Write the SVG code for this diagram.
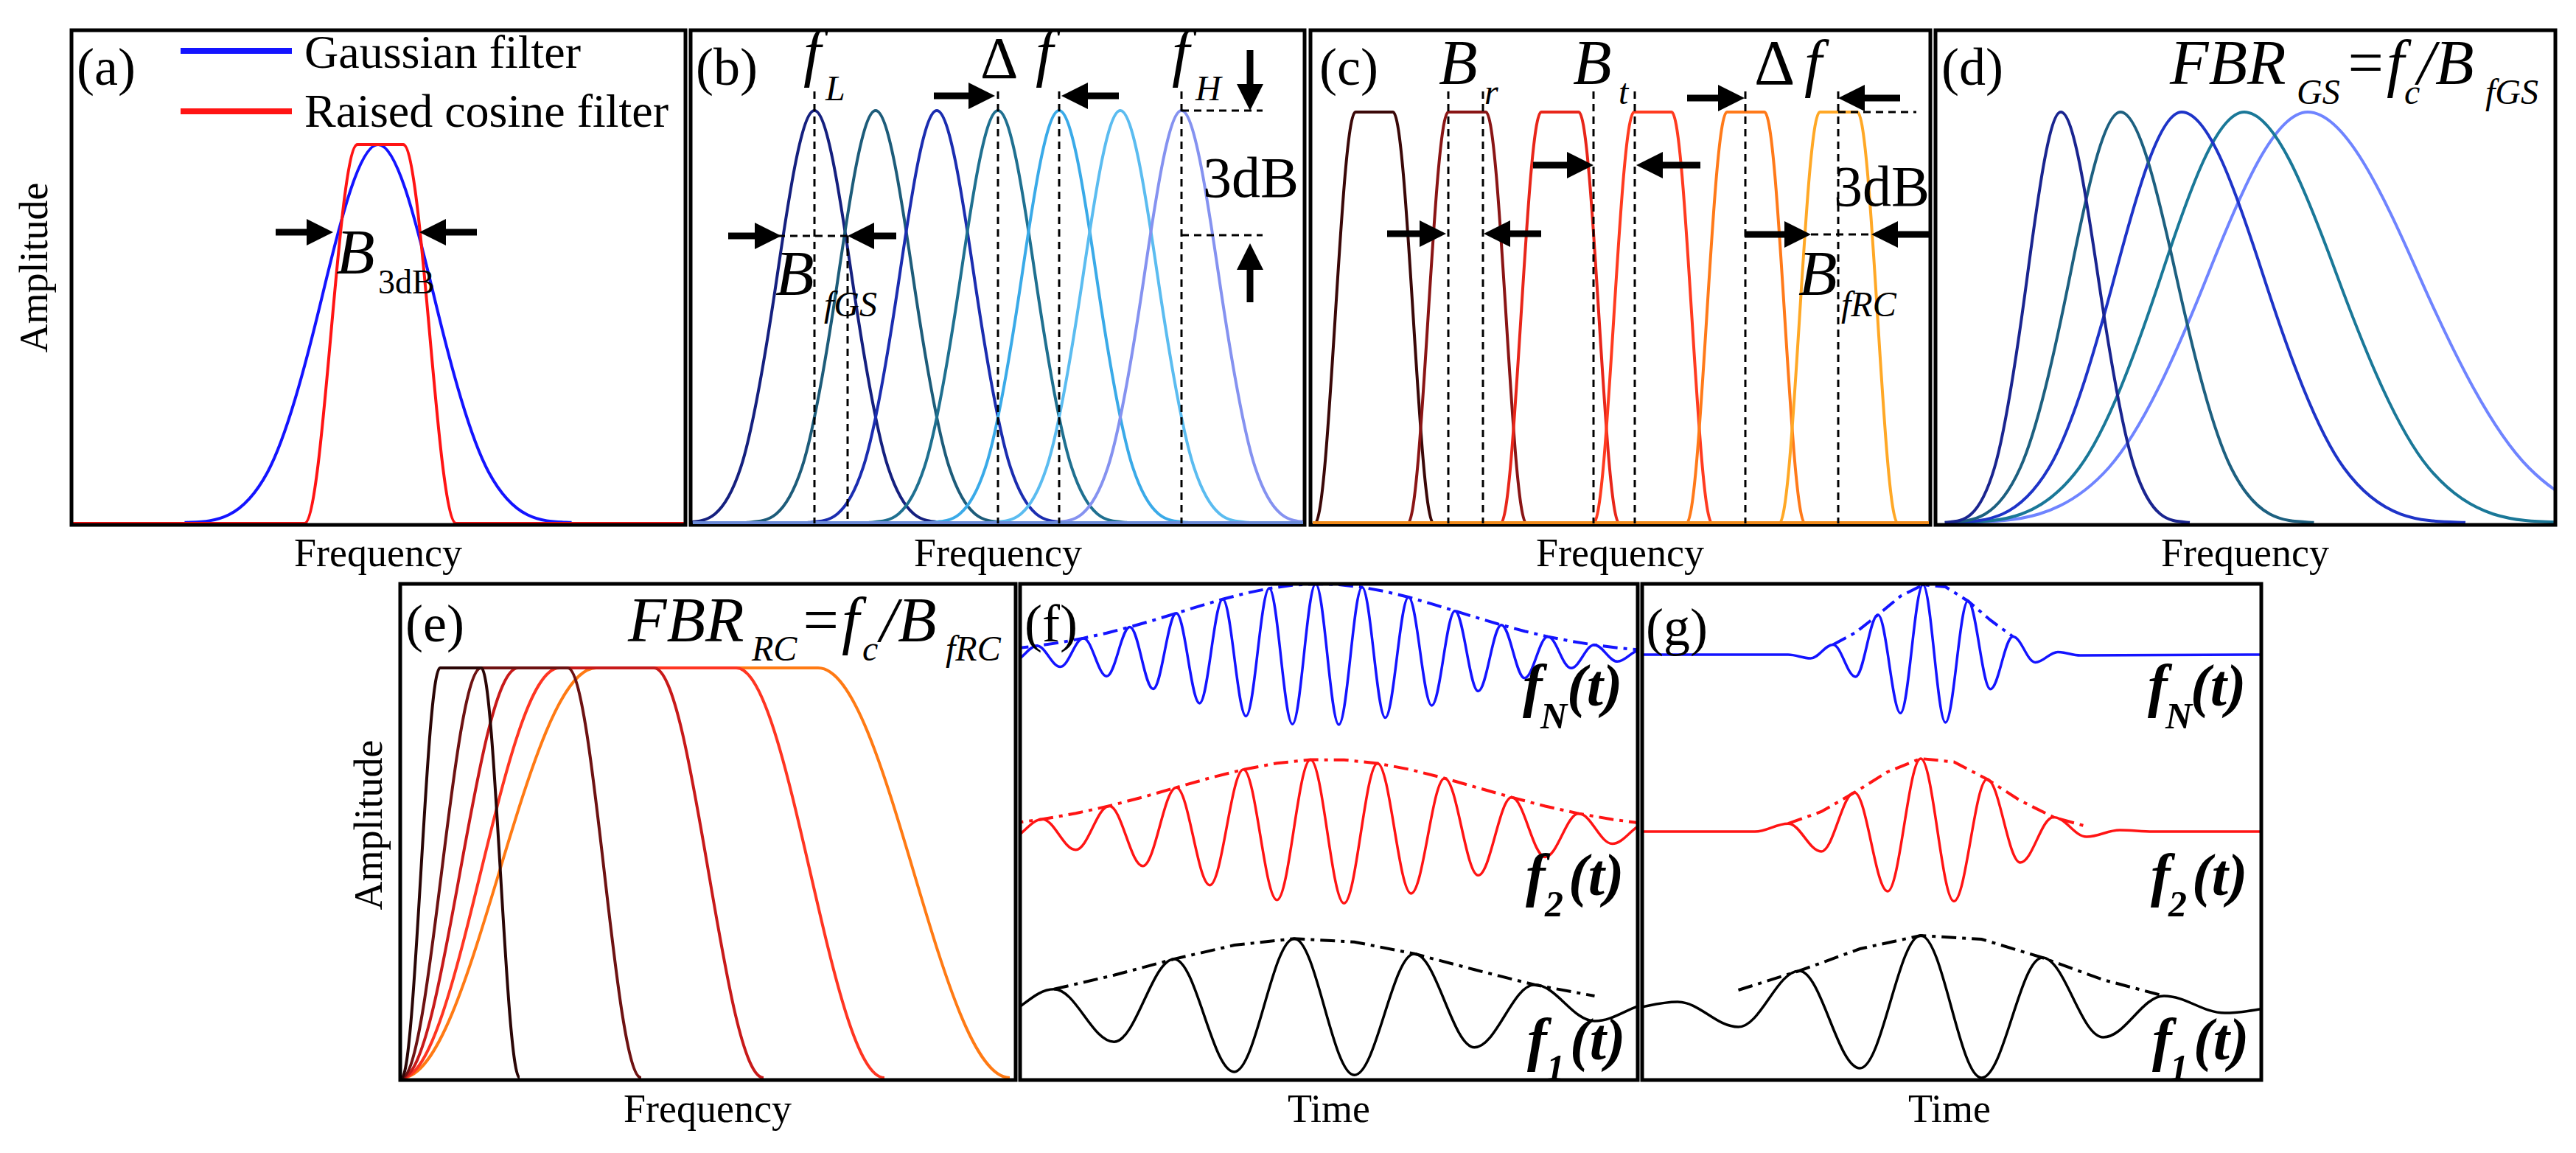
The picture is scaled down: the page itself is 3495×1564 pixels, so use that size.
<svg xmlns="http://www.w3.org/2000/svg" xmlns:xlink="http://www.w3.org/1999/xlink" width="3495" height="1564" viewBox="0 0 3495 1564">
<style>
.frame{fill:none;stroke:#000;stroke-width:5}
.t{font-family:"Liberation Serif","Times New Roman",serif;fill:#000}
.lab{font-size:72px}
.ax{font-size:54px}
.m{font-style:italic;font-size:86px}
.s{font-style:italic;font-size:48px}
.fb{font-style:italic;font-weight:bold;font-size:80px}
.fs{font-style:italic;font-weight:bold;font-size:50px}
.dash{stroke:#000;stroke-width:3;stroke-dasharray:10 7;fill:none}
.arr{stroke:#000;stroke-width:9;marker-end:url(#ah)}
.c{fill:none;stroke-width:4}
.g{fill:none;vector-effect:non-scaling-stroke}
.w{fill:none;stroke-width:3.5}
.env{fill:none;stroke-width:4;stroke-dasharray:20 8 5 8}
</style>
<defs>
<marker id="ah" markerUnits="userSpaceOnUse" viewBox="0 0 10 10" markerWidth="36" markerHeight="38" refX="0" refY="5" orient="auto"><path d="M0,0 L10,5 L0,10 z" fill="#000"/></marker>
<path id="gs" class="g" d="M-3.5,-0.0022 C-3,-0.0061 -2.5,0 -2,-0.1353 C-1.667,-0.2255 -1.333,-0.4043 -1,-0.6065 C-0.667,-0.8087 -0.333,-1 0,-1 C0.333,-1 0.667,-0.8087 1,-0.6065 C1.333,-0.4043 1.667,-0.2255 2,-0.1353 C2.5,0 3,-0.0061 3.5,-0.0022"/>
<path id="gl" class="g" d="M-3.5,-0.0022 C-3,-0.0061 -2.5,0 -2,-0.1353 C-1.667,-0.2255 -1.333,-0.4043 -1,-0.6065 C-0.667,-0.8087 -0.333,-1 0,-1"/>
<path id="gr" class="g" d="M0,-1 C0.333,-1 0.667,-0.8087 1,-0.6065 C1.333,-0.4043 1.667,-0.2255 2,-0.1353 C2.5,0 3,-0.0061 3.5,-0.0022"/>
<clipPath id="cd"><rect x="2626" y="41" width="841" height="671"/></clipPath>
<clipPath id="cb"><rect x="937" y="41" width="833" height="671"/></clipPath>
<clipPath id="cf"><rect x="1384" y="792" width="838" height="673"/></clipPath>
<clipPath id="cg"><rect x="2228" y="792" width="840" height="673"/></clipPath>
</defs>
<rect width="3495" height="1564" fill="#fff"/>

<g id="panel-a">
<use href="#gs" transform="translate(513,710) scale(75,514)" stroke="#1414ff" stroke-width="4"/>
<path class="c" stroke="#ff1414" d="M97,710 L413,710 C439.2,710 458.8,196 485,196 L547,196 C573.2,196 592.8,710 619,710 L930,710"/>
<rect class="frame" x="97" y="41" width="833" height="671"/>
<text class="t lab" x="104" y="115">(a)</text>
<line x1="245" y1="69" x2="396" y2="69" stroke="#1414ff" stroke-width="8"/>
<line x1="245" y1="151" x2="396" y2="151" stroke="#ff1414" stroke-width="8"/>
<text class="t" font-size="64" x="413" y="92">Gaussian filter</text>
<text class="t" font-size="64" x="413" y="172">Raised cosine filter</text>
<text class="t m" x="456" y="371">B</text>
<text class="t" font-size="46" x="513" y="398">3dB</text>
<text class="t ax" x="513" y="768" text-anchor="middle">Frequency</text>
<text class="t ax" transform="translate(64,363) rotate(-90)" text-anchor="middle">Amplitude</text>
</g>

<g id="panel-b">
<g clip-path="url(#cb)" stroke-width="4">
<use href="#gs" transform="translate(1105,710) scale(50,560)" stroke="#15207f"/>
<use href="#gs" transform="translate(1188,710) scale(50,560)" stroke="#1d5c7a"/>
<use href="#gs" transform="translate(1271,710) scale(50,560)" stroke="#1b2db0"/>
<use href="#gs" transform="translate(1354,710) scale(50,560)" stroke="#1f7090"/>
<use href="#gs" transform="translate(1437,710) scale(50,560)" stroke="#3aaae8"/>
<use href="#gs" transform="translate(1520,710) scale(50,560)" stroke="#5bbcf0"/>
<use href="#gs" transform="translate(1603,710) scale(50,560)" stroke="#8592f0"/>
</g>
<rect class="frame" x="937" y="41" width="833" height="671"/>
<line x1="940" y1="709" x2="1768" y2="709" stroke="#6a8ad8" stroke-width="4"/>
<text class="t lab" x="944" y="115">(b)</text>
<text class="t m" x="1090" y="100">f</text>
<text class="t s" x="1120" y="136">L</text>
<text class="t" font-size="80" x="1330" y="106">Δ</text>
<text class="t m" x="1405" y="100">f</text>
<text class="t m" x="1590" y="100">f</text>
<text class="t s" x="1622" y="136">H</text>
<text class="t" font-size="78" x="1632" y="267">3dB</text>
<text class="t m" x="1052" y="400">B</text>
<text class="t s" x="1118" y="429">fGS</text>
<text class="t ax" x="1354" y="768" text-anchor="middle">Frequency</text>
</g>

<g id="panel-c">
<g stroke-width="4" fill="none">
<path stroke="#3b0808" d="M1784,710 C1804,710 1819,152 1839,152 L1890,152 C1910,152 1925,710 1945,710"/>
<path stroke="#8a1515" d="M1910,710 C1930,710 1945,152 1965,152 L2016,152 C2036,152 2051,710 2071,710"/>
<path stroke="#e8261a" d="M2036,710 C2056,710 2071,152 2091,152 L2142,152 C2162,152 2177,710 2197,710"/>
<path stroke="#ff3b20" d="M2162,710 C2182,710 2197,152 2217,152 L2268,152 C2288,152 2303,710 2323,710"/>
<path stroke="#ff7a1a" d="M2288,710 C2308,710 2323,152 2343,152 L2394,152 C2414,152 2429,710 2449,710"/>
<path stroke="#ffa826" d="M2414,710 C2434,710 2449,152 2469,152 L2520,152 C2540,152 2555,710 2575,710"/>
</g>
<rect class="frame" x="1778" y="41" width="841" height="671"/>
<line x1="1781" y1="709" x2="2617" y2="709" stroke="#f08a1a" stroke-width="4"/>
<text class="t lab" x="1790" y="115">(c)</text>
<text class="t m" x="1952" y="114">B</text>
<text class="t s" x="2014" y="141">r</text>
<text class="t m" x="2134" y="114">B</text>
<text class="t s" x="2196" y="141">t</text>
<text class="t" font-size="86" x="2380" y="114">Δ</text>
<text class="t m" x="2448" y="114">f</text>
<text class="t" font-size="78" x="2488" y="279">3dB</text>
<text class="t m" x="2440" y="400">B</text>
<text class="t s" x="2498" y="429">fRC</text>
<text class="t ax" x="2198" y="768" text-anchor="middle">Frequency</text>
</g>

<g id="panel-d">
<g clip-path="url(#cd)" stroke-width="4">
<use href="#gl" transform="translate(3131,710) scale(135,558)" stroke="#6f84ff"/>
<use href="#gr" transform="translate(3131,710) scale(150,558)" stroke="#6f84ff"/>
<use href="#gl" transform="translate(3045,710) scale(112,558)" stroke="#1a7898"/>
<use href="#gr" transform="translate(3045,710) scale(125,558)" stroke="#1a7898"/>
<use href="#gl" transform="translate(2960,710) scale(90,558)" stroke="#1e34c8"/>
<use href="#gr" transform="translate(2960,710) scale(110,558)" stroke="#1e34c8"/>
<use href="#gl" transform="translate(2877,710) scale(68,558)" stroke="#1d6080"/>
<use href="#gr" transform="translate(2877,710) scale(75,558)" stroke="#1d6080"/>
<use href="#gl" transform="translate(2796,710) scale(45,558)" stroke="#1a2590"/>
<use href="#gr" transform="translate(2796,710) scale(50,558)" stroke="#1a2590"/>
</g>
<rect class="frame" x="2626" y="41" width="841" height="671"/>
<text class="t lab" x="2634" y="115">(d)</text>
<text class="t m" x="2944" y="114">FBR</text>
<text class="t s" x="3116" y="141">GS</text>
<text class="t m" x="3180" y="114">=f</text>
<text class="t s" x="3262" y="141">c</text>
<text class="t m" x="3280" y="114">/B</text>
<text class="t s" x="3372" y="141">fGS</text>
<text class="t ax" x="3046" y="768" text-anchor="middle">Frequency</text>
</g>

<g id="panel-e">
<g stroke-width="4" fill="none">
<path stroke="#ff7a14" d="M545,1462 C640.9,1462 713.1,906 809,906 L1110,906 C1204.5,906 1275.5,1462 1370,1462"/>
<path stroke="#ff3522" d="M545,1462 C622.8,1462 681.2,906 759,906 L999,906 C1072,906 1127,1462 1200,1462"/>
<path stroke="#c81a1a" d="M545,1462 C602.4,1462 645.6,906 703,906 L887,906 C941.1,906 981.9,1462 1036,1462"/>
<path stroke="#6e1212" d="M545,1462 C584.2,1462 613.8,906 653,906 L770,906 C806.3,906 833.7,1462 870,1462"/>
<path stroke="#2b0606" d="M545,1462 C563.9,1462 578.1,906 597,906 L653,906 C671.9,906 686.1,1462 705,1462"/>
</g>
<rect class="frame" x="543" y="792" width="835" height="673"/>
<text class="t lab" x="550" y="870">(e)</text>
<text class="t m" x="852" y="870">FBR</text>
<text class="t s" x="1020" y="896">RC</text>
<text class="t m" x="1084" y="870">=f</text>
<text class="t s" x="1170" y="896">c</text>
<text class="t m" x="1194" y="870">/B</text>
<text class="t s" x="1283" y="896">fRC</text>
<text class="t ax" x="960" y="1522" text-anchor="middle">Frequency</text>
<text class="t ax" transform="translate(518,1119) rotate(-90)" text-anchor="middle">Amplitude</text>
</g>

<g id="panel-f">
<g clip-path="url(#cf)">
<path class="w" stroke="#1414ff" d="M1375.5,896.3 C1387,896.3 1395.5,876.1 1407,876.1 C1418.5,876.1 1427,904.5 1438.5,904.5 C1450,904.5 1458.5,865.7 1470,865.7 C1481.5,865.7 1490,917.3 1501.5,917.3 C1513,917.3 1521.5,850.5 1533,850.5 C1544.5,850.5 1553,934.5 1564.5,934.5 C1576,934.5 1584.5,831.8 1596,831.8 C1607.5,831.8 1616,953.9 1627.5,953.9 C1639,953.9 1647.5,812.8 1659,812.8 C1670.5,812.8 1679,971.4 1690.5,971.4 C1702,971.4 1710.5,798.1 1722,798.1 C1733.5,798.1 1742,982.2 1753.5,982.2 C1765,982.2 1773.5,792 1785,792 C1796.5,792 1805,983 1816.5,983 C1828,983 1836.5,796.5 1848,796.5 C1859.5,796.5 1868,973.6 1879.5,973.6 C1891,973.6 1899.5,810 1911,810 C1922.5,810 1931,956.9 1942.5,956.9 C1954,956.9 1962.5,828.7 1974,828.7 C1985.5,828.7 1994,937.6 2005.5,937.6 C2017,937.6 2025.5,847.7 2037,847.7 C2048.5,847.7 2057,919.8 2068.5,919.8 C2080,919.8 2088.5,863.6 2100,863.6 C2111.5,863.6 2120,906.2 2131.5,906.2 C2143,906.2 2151.5,874.8 2163,874.8 C2174.5,874.8 2183,897.3 2194.5,897.3 C2206,897.3 2214.5,881.6 2226,881.6"/>
<polyline class="env" stroke="#1414ff" points="1375.5,879.7 1407,876.1 1438.5,871.5 1470,865.7 1501.5,858.7 1533,850.5 1564.5,841.5 1596,831.8 1627.5,822.1 1659,812.8 1690.5,804.6 1722,798.1 1753.5,793.8 1785,792 1816.5,793 1848,796.5 1879.5,802.4 1911,810 1942.5,819.1 1974,828.7 2005.5,838.4 2037,847.7 2068.5,856.2 2100,863.6 2131.5,869.8 2163,874.8 2194.5,878.7 2226,881.6"/>
<path class="w" stroke="#ff1414" d="M1368.5,1138.7 C1385,1138.7 1397.5,1111.3 1414,1111.3 C1430.5,1111.3 1443,1152.7 1459.5,1152.7 C1476,1152.7 1488.5,1093.2 1505,1093.2 C1521.5,1093.2 1534,1174.7 1550.5,1174.7 C1567,1174.7 1579.5,1068.2 1596,1068.2 C1612.5,1068.2 1625,1200.7 1641.5,1200.7 C1658,1200.7 1670.5,1043.8 1687,1043.8 C1703.5,1043.8 1716,1220.8 1732.5,1220.8 C1749,1220.8 1761.5,1030.6 1778,1030.6 C1794.5,1030.6 1807,1225.3 1823.5,1225.3 C1840,1225.3 1852.5,1035.4 1869,1035.4 C1885.5,1035.4 1898,1211.9 1914.5,1211.9 C1931,1211.9 1943.5,1055.7 1960,1055.7 C1976.5,1055.7 1989,1187.3 2005.5,1187.3 C2022,1187.3 2034.5,1081.6 2051,1081.6 C2067.5,1081.6 2080,1162.5 2096.5,1162.5 C2113,1162.5 2125.5,1103.6 2142,1103.6 C2158.5,1103.6 2171,1144.5 2187.5,1144.5 C2204,1144.5 2216.5,1117.4 2233,1117.4"/>
<polyline class="env" stroke="#ff1414" points="1368.5,1117.3 1414,1111.3 1459.5,1103.3 1505,1093.2 1550.5,1081.3 1596,1068.2 1641.5,1055.3 1687,1043.8 1732.5,1035.2 1778,1030.6 1823.5,1030.7 1869,1035.4 1914.5,1044.1 1960,1055.7 2005.5,1068.7 2051,1081.6 2096.5,1093.5 2142,1103.6 2187.5,1111.5 2233,1117.4"/>
<path class="w" stroke="#000" d="M1348.5,1381.2 C1378.1,1381.2 1400.4,1341.7 1430,1341.7 C1459.6,1341.7 1481.9,1413.2 1511.5,1413.2 C1541.1,1413.2 1563.4,1300.9 1593,1300.9 C1622.6,1300.9 1644.9,1453.9 1674.5,1453.9 C1704.1,1453.9 1726.4,1273.2 1756,1273.2 C1785.6,1273.2 1807.9,1458.3 1837.5,1458.3 C1867.1,1458.3 1889.4,1293.8 1919,1293.8 C1948.6,1293.8 1970.9,1420.7 2000.5,1420.7 C2030.1,1420.7 2052.4,1335.8 2082,1335.8 C2111.6,1335.8 2133.9,1385 2163.5,1385 C2193.1,1385 2215.4,1360.3 2245,1360.3"/>
<polyline class="env" stroke="#000" points="1430,1341.7 1511.5,1322.8 1593,1300.9 1674.5,1282.1 1756,1273.2 1837.5,1277.7 1919,1293.8 2000.5,1315.3 2082,1335.8 2163.5,1351"/>
</g>
<rect class="frame" x="1384" y="792" width="838" height="673"/>
<text class="t lab" x="1390" y="870">(f)</text>
<text class="t fb" x="2066" y="957">f</text>
<text class="t fs" x="2090" y="988">N</text>
<text class="t fb" x="2126" y="957">(t)</text>
<text class="t fb" x="2070" y="1214">f</text>
<text class="t fs" x="2096" y="1243">2</text>
<text class="t fb" x="2128" y="1214">(t)</text>
<text class="t fb" x="2072" y="1437">f</text>
<text class="t fs" x="2098" y="1465">1</text>
<text class="t fb" x="2130" y="1437">(t)</text>
<text class="t ax" x="1803" y="1522" text-anchor="middle">Time</text>
</g>

<g id="panel-g">
<g clip-path="url(#cg)">
<path class="w" stroke="#1414ff" d="M2228,888 L2426,888 C2437.1,888 2445.4,893 2456.5,893 C2467.6,893 2475.9,874.5 2487,874.5 C2498.1,874.5 2506.4,918 2517.5,918 C2528.6,918 2536.9,834 2548,834 C2559.1,834 2567.4,967.3 2578.5,967.3 C2589.6,967.3 2597.9,793.3 2609,793.3 C2620.1,793.3 2628.4,980 2639.5,980 C2650.6,980 2658.9,815.2 2670,815.2 C2681.1,815.2 2689.4,934.8 2700.5,934.8 C2711.6,934.8 2719.9,863.5 2731,863.5 C2742.1,863.5 2750.4,898.5 2761.5,898.5 C2772.6,898.5 2780.9,884.4 2792,884.4 C2803.1,884.4 2811.4,889 2822.5,889 L3068,888"/>
<polyline class="env" stroke="#1414ff" points="2487,874.5 2517.5,858 2548,834 2578.5,808.7 2609,793.3 2639.5,796 2670,815.2 2700.5,841.2 2731,863.5"/>
<path class="w" stroke="#ff1414" d="M2228,1128 L2381,1128 C2397.4,1128 2409.7,1117.2 2426,1117.2 C2442.4,1117.2 2454.7,1155 2471,1155 C2487.4,1155 2499.7,1075 2516,1075 C2532.4,1075 2544.7,1209 2561,1209 C2577.4,1209 2589.7,1029 2606,1029 C2622.4,1029 2634.7,1222.5 2651,1222.5 C2667.4,1222.5 2679.7,1057 2696,1057 C2712.4,1057 2724.7,1170 2741,1170 C2757.4,1170 2769.7,1108.4 2786,1108.4 C2802.4,1108.4 2814.7,1135 2831,1135 C2847.4,1135 2859.7,1126 2876,1126 C2892.4,1126 2904.7,1128 2921,1128 L3068,1128"/>
<polyline class="env" stroke="#ff1414" points="2426,1117.2 2471,1101 2516,1075 2561,1047 2606,1029 2651,1033.5 2696,1057 2741,1086 2786,1108.4 2831,1121"/>
<path class="w" stroke="#000" d="M2193.5,1370 C2223.5,1370 2246,1359 2276,1359 C2306,1359 2328.5,1393 2358.5,1393 C2388.5,1393 2411,1317 2441,1317 C2471,1317 2493.5,1449 2523.5,1449 C2553.5,1449 2576,1269 2606,1269 C2636,1269 2658.5,1462 2688.5,1462 C2718.5,1462 2741,1299 2771,1299 C2801,1299 2823.5,1407 2853.5,1407 C2883.5,1407 2906,1351 2936,1351 C2966,1351 2988.5,1374 3018.5,1374 C3048.5,1374 3071,1366 3101,1366"/>
<polyline class="env" stroke="#000" points="2358.5,1343 2441,1317 2523.5,1287 2606,1269 2688.5,1274 2771,1299 2853.5,1329 2936,1351"/>
</g>
<rect class="frame" x="2228" y="792" width="840" height="673"/>
<text class="t lab" x="2233" y="875">(g)</text>
<text class="t fb" x="2914" y="957">f</text>
<text class="t fs" x="2938" y="988">N</text>
<text class="t fb" x="2972" y="957">(t)</text>
<text class="t fb" x="2918" y="1214">f</text>
<text class="t fs" x="2942" y="1243">2</text>
<text class="t fb" x="2974" y="1214">(t)</text>
<text class="t fb" x="2920" y="1437">f</text>
<text class="t fs" x="2944" y="1465">1</text>
<text class="t fb" x="2976" y="1437">(t)</text>
<text class="t ax" x="2645" y="1522" text-anchor="middle">Time</text>
</g>

<g id="connectors">
<line class="arr" x1="374" y1="315" x2="416" y2="315"/>
<line class="arr" x1="647" y1="315" x2="605" y2="315"/>
<line class="dash" x1="1105" y1="124" x2="1105" y2="710"/>
<line class="dash" x1="1150" y1="320" x2="1150" y2="710"/>
<line class="dash" x1="1354" y1="124" x2="1354" y2="710"/>
<line class="dash" x1="1437" y1="124" x2="1437" y2="710"/>
<line class="dash" x1="1603" y1="124" x2="1603" y2="710"/>
<line class="dash" x1="1055" y1="320" x2="1150" y2="320"/>
<line class="dash" x1="1603" y1="150" x2="1713" y2="150"/>
<line class="dash" x1="1603" y1="319" x2="1713" y2="319"/>
<line class="arr" x1="988" y1="320" x2="1024" y2="320"/>
<line class="arr" x1="1216" y1="320" x2="1186" y2="320"/>
<line class="arr" x1="1267" y1="130" x2="1314" y2="130"/>
<line class="arr" x1="1518" y1="130" x2="1476" y2="130"/>
<line class="arr" x1="1696" y1="68" x2="1696" y2="114"/>
<line class="arr" x1="1696" y1="410" x2="1696" y2="366"/>
<line class="dash" x1="1965" y1="124" x2="1965" y2="710"/>
<line class="dash" x1="2012" y1="124" x2="2012" y2="710"/>
<line class="dash" x1="2162" y1="124" x2="2162" y2="710"/>
<line class="dash" x1="2218" y1="124" x2="2218" y2="710"/>
<line class="dash" x1="2368" y1="124" x2="2368" y2="710"/>
<line class="dash" x1="2494" y1="124" x2="2494" y2="710"/>
<line class="dash" x1="2457" y1="318" x2="2539" y2="318"/>
<line class="dash" x1="2494" y1="152" x2="2600" y2="152"/>
<line class="arr" x1="1882" y1="317" x2="1926" y2="317"/>
<line class="arr" x1="2091" y1="317" x2="2049" y2="317"/>
<line class="arr" x1="2080" y1="224" x2="2126" y2="224"/>
<line class="arr" x1="2307" y1="224" x2="2256" y2="224"/>
<line class="arr" x1="2289" y1="133" x2="2331" y2="133"/>
<line class="arr" x1="2578" y1="133" x2="2530" y2="133"/>
<line class="arr" x1="2367" y1="318" x2="2421" y2="318"/>
<line class="arr" x1="2617" y1="318" x2="2575" y2="318"/>
</g>
</svg>
